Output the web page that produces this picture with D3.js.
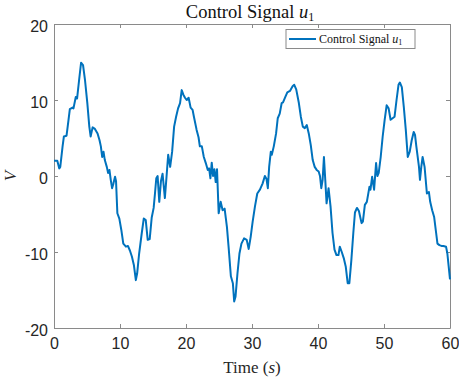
<!DOCTYPE html>
<html><head><meta charset="utf-8">
<script src="https://cdn.jsdelivr.net/npm/d3@7"></script>
<style>body{margin:0;background:#fff}svg{display:block}</style>
</head><body>
<script>
const times = [0,0.5,0.8,0.95,1.3,1.5,1.9,2.2,2.4,2.8,2.95,3.3,3.5,3.8,4.1,4.4,4.7,5.05,5.35,5.55,5.85,6.2,6.6,6.9,7.1,7.3,7.5,7.7,8.0,8.2,8.4,8.6,8.8,9.0,9.25,9.4,9.6,9.9,10.2,10.5,10.9,11.2,11.5,11.8,12.1,12.4,12.6,12.9,13.3,13.6,13.9,14.2,14.5,14.8,15.1,15.3,15.5,15.7,15.95,16.2,16.45,16.8,17.05,17.3,17.6,17.9,18.2,18.5,18.8,19.1,19.35,19.6,19.85,20.1,20.4,20.7,21.0,21.2,21.6,21.9,22.1,22.4,22.7,23.0,23.3,23.5,23.7,23.9,24.1,24.3,24.5,24.7,24.95,25.25,25.55,25.85,26.2,26.45,26.8,27.1,27.3,27.5,27.8,28.1,28.4,28.8,29.2,29.5,29.8,30.1,30.45,30.8,31.2,31.6,31.95,32.2,32.4,32.6,32.85,33.0,33.3,33.65,33.9,34.2,34.5,34.7,35.05,35.35,35.75,36.15,36.4,36.7,37.1,37.4,37.7,38.0,38.3,38.6,38.9,39.2,39.5,39.8,40.1,40.3,40.5,40.7,40.9,41.1,41.3,41.6,41.9,42.2,42.5,42.8,43.1,43.3,43.6,43.9,44.2,44.5,44.75,45.05,45.35,45.6,45.9,46.2,46.6,46.8,47.1,47.4,47.8,47.95,48.2,48.5,48.8,49.0,49.2,49.5,49.8,50.1,50.4,50.7,51.0,51.3,51.6,51.9,52.2,52.4,52.7,53.0,53.3,53.6,53.9,54.2,54.5,54.7,54.9,55.3,55.45,55.65,55.85,56.15,56.5,56.8,57.0,57.3,57.6,57.9,58.1,58.4,58.7,59.0,59.4,59.6,59.8,60];
const u1 = [2.0,2.0,1.0,1.2,3.9,5.2,5.3,7.4,8.8,9.0,8.9,10.4,10.2,12.6,14.9,14.6,12.6,9.6,6.5,5.2,6.4,6.2,5.6,4.7,3.9,2.5,3.2,2.1,1.2,0.4,0.8,-0.5,-1.6,-1.0,-0.1,-0.7,-4.9,-5.6,-7.1,-8.9,-9.3,-9.2,-9.8,-10.6,-11.7,-13.7,-12.8,-10.2,-7.5,-5.6,-5.8,-8.4,-8.3,-5.5,-4.2,-2.3,-0.3,0,-3.4,-0.7,0.3,-2.9,-0.1,2.8,1.2,3.2,6.5,7.8,8.9,9.6,11.3,10.7,10.3,10.0,10.3,9.0,8.7,7.8,6.1,5.1,3.9,3.9,2.5,1.7,0.8,1.0,-0.3,1.75,0,0.9,-0.8,0.9,-4.9,-3.4,-4.5,-4.3,-6.7,-9.3,-13.2,-14.1,-16.5,-15.9,-12.8,-10.2,-8.9,-8.2,-8.4,-9.6,-8.0,-6.0,-4.0,-2.3,-1.8,-1.0,0,-0.4,-1.6,1.2,3.2,2.8,3.9,5.6,7.6,8.2,9.6,9.7,10.4,11.0,11.2,11.8,12.0,11.4,9.6,7.8,6.5,6.3,6.7,5.6,4.1,2.1,1.2,0.8,0.6,0,-1.6,-0.5,2.5,-0.5,-3.6,-1.6,-4.0,-7.5,-9.7,-10.4,-10.4,-9.3,-10.0,-10.8,-11.9,-14.1,-14.1,-11.1,-7.5,-4.8,-4.2,-4.6,-6.2,-6.0,-3.8,-3.4,-1.4,-1.8,-0.1,-1.8,1.7,0,0.4,2.5,5.2,7.4,9.3,8.9,7.4,7.6,7.8,10.0,12.0,12.3,11.7,9.1,6.1,2.5,3.2,4.7,5.8,5.4,3.9,1.2,-0.5,1.2,2.5,1.2,-2.3,-2.1,-3.4,-4.5,-5.4,-7.5,-8.9,-9.1,-9.2,-9.2,-9.3,-10.2,-11.9,-13.6];
const xTicks = [0,10,20,30,40,50,60];
const yTicks = [-20,-10,0,10,20];

const W = 459, H = 378;
const m = {left:54, right:9, top:24, bottom:50};
const pw = W - m.left - m.right, ph = H - m.top - m.bottom;
const svg = d3.select("body").append("svg").attr("width", W).attr("height", H);
const x = d3.scaleLinear().domain([0,60]).range([m.left, m.left+pw]);
const y = d3.scaleLinear().domain([-20,20]).range([m.top+ph, m.top]);
const axisCol = "#8a8a8a";
const tickFont = "Liberation Sans, Arial, sans-serif";
const serif = "Liberation Serif, Times New Roman, serif";
const fmt = d => String(d);

const gx = svg.append("g").attr("transform", `translate(0,${m.top+ph})`)
  .call(d3.axisBottom(x).tickValues(xTicks).tickFormat(fmt).tickSizeInner(-4).tickSizeOuter(0).tickPadding(10));
const gy = svg.append("g").attr("transform", `translate(${m.left},0)`)
  .call(d3.axisLeft(y).tickValues(yTicks).tickFormat(fmt).tickSizeInner(-4).tickSizeOuter(0).tickPadding(6));
const gt = svg.append("g").attr("transform", `translate(0,${m.top})`)
  .call(d3.axisTop(x).tickValues(xTicks).tickSizeInner(-4).tickSizeOuter(0).tickFormat(""));
const gr = svg.append("g").attr("transform", `translate(${m.left+pw},0)`)
  .call(d3.axisRight(y).tickValues(yTicks).tickSizeInner(-4).tickSizeOuter(0).tickFormat(""));
[gx,gy,gt,gr].forEach(g=>{
  g.selectAll("path.domain").attr("stroke", axisCol).attr("stroke-width",1);
  g.selectAll(".tick line").attr("stroke", axisCol);
  g.selectAll(".tick text").attr("fill","#262626").attr("font-family",tickFont).attr("font-size",16);
});
gy.selectAll(".tick text").attr("dy","0.45em");

const line = d3.line().x((d,i)=>x(times[i])).y(d=>y(d));
svg.append("path").datum(u1).attr("d", line).attr("fill","none")
  .attr("stroke","#0072BD").attr("stroke-width",2).attr("stroke-linejoin","round");

// title
const title = svg.append("text").attr("x", 250).attr("y", 18).attr("text-anchor","middle")
  .attr("font-family", serif).attr("font-size",18.5).attr("fill","#111");
title.append("tspan").text("Control Signal ");
title.append("tspan").attr("font-style","italic").text("u");
title.append("tspan").attr("font-size",12).attr("dy",3).text("1");

// x label
const xl = svg.append("text").attr("x", 252).attr("y", 373).attr("text-anchor","middle")
  .attr("font-family", serif).attr("font-size",17).attr("fill","#262626");
xl.append("tspan").text("Time (");
xl.append("tspan").attr("font-style","italic").text("s");
xl.append("tspan").text(")");

// y label
svg.append("text").attr("transform", `translate(16,${y(0)}) rotate(-90)`).attr("text-anchor","middle")
  .attr("font-family", serif).attr("font-style","italic").attr("font-size",17).attr("fill","#262626").text("V");

// legend
const lg = svg.append("g");
lg.append("rect").attr("x",286).attr("y",29.5).attr("width",129).attr("height",19)
  .attr("fill","#fff").attr("stroke",axisCol).attr("stroke-width",1);
lg.append("line").attr("x1",289).attr("x2",316).attr("y1",39).attr("y2",39)
  .attr("stroke","#0072BD").attr("stroke-width",2);
const lt = lg.append("text").attr("x",319).attr("y",43).attr("font-family",serif).attr("font-size",12).attr("fill","#111");
lt.append("tspan").text("Control Signal ");
lt.append("tspan").attr("font-style","italic").text("u");
lt.append("tspan").attr("font-size",8).attr("dy",2).text("1");
</script>
</body></html>
